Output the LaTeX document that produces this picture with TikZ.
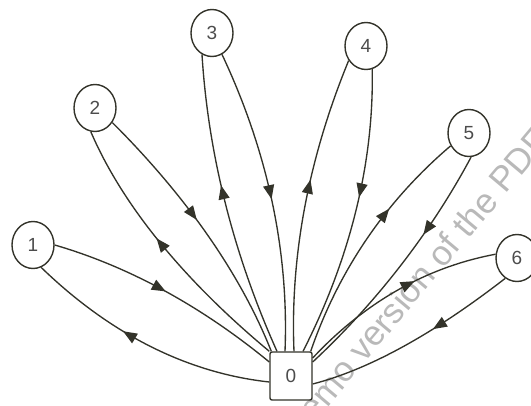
\documentclass[tikz,border=0pt]{standalone}
\usepackage{fontspec}
\setmainfont{Liberation Sans}
\usetikzlibrary{arrows.meta,decorations.markings,calc,shapes.geometric}
\definecolor{ink}{HTML}{33332A}
\begin{document}
\begin{tikzpicture}[x=1pt,y=-1pt,
  st/.style={ellipse,draw=ink,line width=1.4pt,minimum width=42pt,minimum height=47pt,inner sep=0pt,
    font=\fontsize{19}{19}\selectfont,text=black!70},
  hub/.style={rectangle,draw=ink,line width=1.4pt,minimum width=42pt,minimum height=48pt,
    rounded corners=2pt,inner sep=0pt,font=\fontsize{19}{19}\selectfont,text=black!70},
  link/.style={draw=ink,line width=1.35pt},
  tipat/.style={postaction={decorate},decoration={markings,
    mark=at position #1 with {\arrow[ink]{Triangle[length=14pt,width=11pt]}}}}
]
\useasboundingbox (0,0) rectangle (531,406);
\clip (0,0) rectangle (531,406);
% watermark
\node[rotate=50,anchor=base west,text=gray!55,font=\fontsize{35}{35}\selectfont] (wm) at (296,445) {Demo version of the PDF};
% nodes
\node[st] (n1) at (33,245) {1};
\node[st] (n2) at (95,108) {2};
\node[st] (n3) at (212,33) {3};
\node[st] (n4) at (366,46) {4};
\node[st] (n5) at (469,133) {5};
\node[st] (n6) at (517,258) {6};
\node[hub] (o) at (291,376) {0};
% connectors
\draw[link,tipat=0.49] (n1.east) .. controls (127,266) and (200,305) .. ([yshift=14pt]o.west);
\draw[link,tipat=0.6] ([yshift=-6pt]o.west) .. controls (187,373) and (110,334) .. (n1.290);
\draw[link,tipat=0.46] (n2.-40) .. controls (187,197) and (241,275) .. ([xshift=2pt]o.north west);
\draw[link,tipat=0.56] (o.north west) .. controls (180,277) and (121,202) .. (n2.260);
\draw[link,tipat=0.57] ([xshift=-14pt]o.north) .. controls (232,251) and (208,151) .. (n3.245);
\draw[link,tipat=0.5] (n3.295) .. controls (267.5,151) and (289,251) .. ([xshift=-6pt]o.north);
\draw[link,tipat=0.58] ([xshift=3pt]o.north) .. controls (290,255) and (309,157) .. (n4.220);
\draw[link,tipat=0.44] (n4.285) .. controls (374,161) and (351,257) .. ([xshift=12pt]o.north);
\draw[link,tipat=0.65] ([xshift=-2pt]o.north east) .. controls (339,269) and (387,200) .. (n5.215);
\draw[link,tipat=0.35] (n5.275) .. controls (431,232) and (377,302) .. ([yshift=14pt]o.east);
\draw[link,tipat=0.6] ([yshift=18pt]o.east) .. controls (365,302) and (427,267) .. (n6.170);
\draw[link,tipat=0.4] (n6.240) .. controls (436,332) and (371,369) .. ([yshift=-8pt]o.east);
\end{tikzpicture}
\end{document}
